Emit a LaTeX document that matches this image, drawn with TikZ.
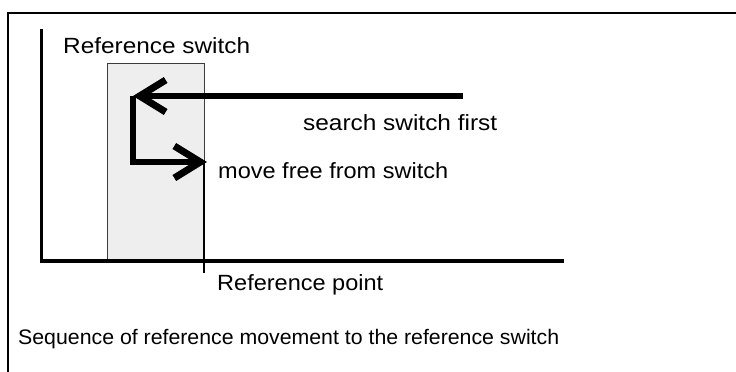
\documentclass[tikz,border=0pt]{standalone}
\usepackage{graphicx}
\usepackage{fontspec}
\setmainfont{Liberation Sans}
\usetikzlibrary{arrows.meta}
\newcommand{\fitw}[2]{\resizebox{#1}{\height}{#2}}
\definecolor{boxgray}{RGB}{238,238,238}
\definecolor{edgegray}{RGB}{60,60,60}
\begin{document}
\begin{tikzpicture}[x=1pt,y=-1pt,
  lbl/.style={anchor=base west,inner sep=0pt,font=\fontsize{22}{25}\selectfont},
  capt/.style={anchor=base west,inner sep=0pt,font=\fontsize{21}{24}\selectfont},
  axisline/.style={line width=3.5pt,line join=miter},
  moveline/.style={line width=5.5pt,line join=miter,-{Straight Barb[length=26pt,width=32pt,line width=7pt]}},
]
\useasboundingbox (0,0) rectangle (736,372);
% frame
\coordinate (fr1) at (736,13);
\coordinate (fr2) at (8,13);
\coordinate (fr3) at (8,372);
\draw[line width=2.2pt,line join=miter] (fr1) -- (fr2) -- (fr3);
% switch area
\node[draw=edgegray,fill=boxgray,line width=1.2pt,minimum width=97pt,minimum height=198pt,anchor=north west,inner sep=0pt] (sw) at (107,63) {};
% axes
\coordinate (ytop) at (41.5,29);
\coordinate (orig) at (41.5,261);
\coordinate (xend) at (564,261);
\draw[axisline] (ytop) -- (orig) -- (xend);
% reference point
\coordinate (rptop) at (204,160);
\coordinate (rpbot) at (204,273);
\draw[line width=2.8pt] (rptop) -- (rpbot);
% movements
\coordinate (s1) at (463,96);
\coordinate (corner) at (133,96);
\coordinate (e2) at (207,162);
\draw[moveline] (s1) -- (corner);
\draw[moveline] (corner) |- (e2);
% labels
\node[lbl] (t1) at (63,53) {\fitw{187pt}{Reference switch}};
\node[lbl] (t2) at (303,130) {\fitw{194pt}{search switch first}};
\node[lbl] (t3) at (218,178) {\fitw{230pt}{move free from switch}};
\node[lbl] (t4) at (217,290) {\fitw{166pt}{Reference point}};
\node[capt] (t5) at (18,344) {\fitw{541pt}{Sequence of reference movement to the reference switch}};
\end{tikzpicture}
\end{document}
